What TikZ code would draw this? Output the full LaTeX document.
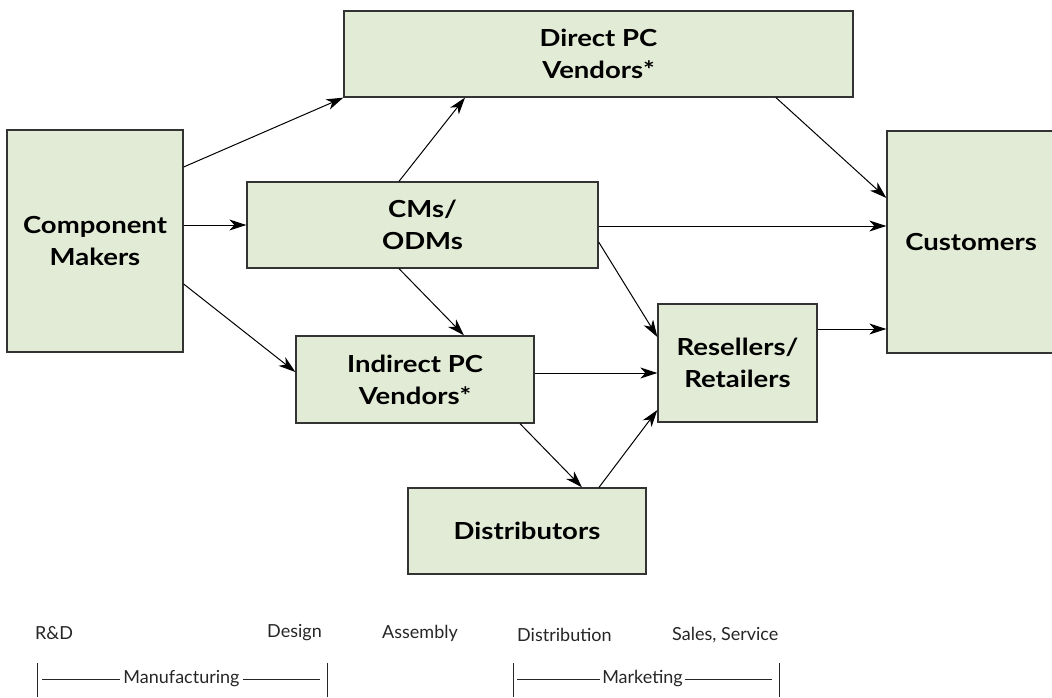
\documentclass[tikz,border=0pt]{standalone}
\usepackage{fontspec}
\setmainfont{Lato}
\newfontfamily\boxfont[FakeStretch=1.17]{Lato}
\newfontfamily\stagefont{Lato}
\usetikzlibrary{arrows.meta}
\definecolor{boxfill}{HTML}{E2EBD6}
\definecolor{boxline}{HTML}{333333}
\tikzset{
  flowbox/.style={draw=boxline, line width=1.3pt, fill=boxfill, inner sep=0pt,
    align=center, font=\boxfont\fontsize{23.5}{32}\selectfont\bfseries},
  flow/.style={line width=1pt, -{Stealth[length=17pt,width=11pt,inset=5pt]}},
  stagetxt/.style={anchor=west, inner sep=0pt, font=\stagefont\fontsize{18}{20}\selectfont, text=black!85},
  bar/.style={line width=0.9pt, black!85}
}
\begin{document}
\begin{tikzpicture}[x=1pt,y=-1pt]
\useasboundingbox (0,0) rectangle (1052,698);
\clip (0,0) rectangle (1052,698);
% boxes
\node[flowbox, minimum width=509pt, minimum height=86pt] (dpc) at (598.5,54) {Direct PC\\Vendors*};
\node[flowbox, minimum width=176pt, minimum height=222pt] (cm) at (95,241) {Component\\Makers};
\node[flowbox, minimum width=170pt, minimum height=222pt, text width=165pt] (cust) at (972,242) {\hspace*{-2pt}Customers};
\node[flowbox, minimum width=351pt, minimum height=86pt] (odm) at (422.5,225) {CMs/\\ODMs};
\node[flowbox, minimum width=238pt, minimum height=87pt] (ipc) at (415,379.5) {Indirect PC\\Vendors*};
\node[flowbox, minimum width=159pt, minimum height=118pt] (res) at (737.5,363) {Resellers/\\Retailers};
\node[flowbox, minimum width=238pt, minimum height=86pt] (dist) at (527,531) {Distributors};
% connectors
\draw[flow] (cm.east |- 0,167) -- (dpc.south west);
\draw[flow] (399,0 |- odm.north) -- (465,0 |- dpc.south);
\draw[flow] (776,0 |- dpc.south) -- (cust.west |- 0,198);
\draw[flow] (cm.east |- 0,225) -- (odm.west);
\draw[flow] (odm.east |- 0,226) -- (cust.west |- 0,226);
\draw[flow] (399,0 |- odm.south) -- (464,0 |- ipc.north);
\draw[flow] (odm.east |- 0,242) -- (res.west |- 0,337);
\draw[flow] (cm.east |- 0,284) -- (ipc.west |- 0,372);
\draw[flow] (ipc.east |- 0,373) -- (res.west |- 0,373);
\draw[flow] (res.east |- 0,329) -- (cust.west |- 0,329);
\draw[flow] (520,0 |- ipc.south) -- (582,0 |- dist.north);
\draw[flow] (599,0 |- dist.north) -- (res.west |- 0,410);
% stage labels
\node[stagetxt] (rd) at (35,633) {R\&D};
\node[stagetxt] (design) at (267,633) {Design};
\node[stagetxt] (assembly) at (382,633) {Assembly};
\node[stagetxt] (distrib) at (517,635) {Distribution};
\node[stagetxt] (sales) at (672,635) {Sales, Service};
% brackets
\coordinate (b1t) at (37,663); \coordinate (b1b) at (37,697);
\coordinate (b2t) at (327,663); \coordinate (b2b) at (327,697);
\coordinate (b3t) at (513,663); \coordinate (b3b) at (513,697);
\coordinate (b4t) at (779,663); \coordinate (b4b) at (779,697);
\draw[bar] (b1t) -- (b1b);
\draw[bar] (b2t) -- (b2b);
\draw[bar] (b3t) -- (b3b);
\draw[bar] (b4t) -- (b4b);
\node[stagetxt, anchor=center, inner xsep=3pt] (manu) at (181.5,679) {Manufacturing};
\node[stagetxt, anchor=center, inner xsep=2pt] (mkt) at (642.5,679) {Marketing};
\draw[bar] (42,679) -- (manu.west);
\draw[bar] (manu.east) -- (320,679);
\draw[bar] (517,679) -- (mkt.west);
\draw[bar] (mkt.east) -- (772,679);
\end{tikzpicture}
\end{document}
